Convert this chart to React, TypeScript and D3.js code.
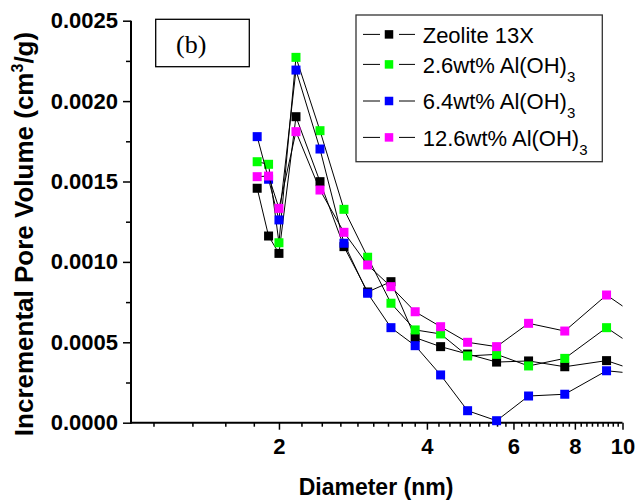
import React, { useRef, useEffect } from "react";
import * as d3 from "d3";

// pore diameters (nm), shared by all four samples
const diameters = [1.806, 1.905, 2.0, 2.166, 2.424, 2.712, 3.03, 3.38, 3.786, 4.265, 4.84, 5.544, 6.44, 7.63, 9.28, 11.6];

const zeolite13X = [0.001458, 0.001161, 0.001053, 0.001903, 0.001499, 0.001095, 0.000813, 0.000877, 0.000529, 0.000473, 0.000427, 0.000377, 0.000384, 0.000348, 0.000386, 0.000287];
const al26 = [0.001623, 0.001607, 0.001119, 0.002272, 0.001816, 0.001327, 0.001029, 0.000743, 0.000577, 0.000552, 0.000415, 0.000425, 0.000353, 0.0004, 0.000591, 0.000392];
const al64 = [0.001779, 0.001514, 0.001261, 0.002193, 0.001702, 0.001116, 0.000805, 0.000591, 0.000479, 0.000297, 0.0000746, 0.0000124, 0.000166, 0.000177, 0.000323, 0.000294];
const al126 = [0.00153, 0.001534, 0.001333, 0.00181, 0.001447, 0.001184, 0.000981, 0.000846, 0.00069, 0.000597, 0.0005, 0.000473, 0.000618, 0.00057, 0.000794, 0.00059];

const seriesNames = ["Zeolite 13X", "2.6wt% Al(OH)", "6.4wt% Al(OH)", "12.6wt% Al(OH)"];
const seriesSubs = ["", "3", "3", "3"];
const seriesColors = ["#000000", "#00ff00", "#0000ff", "#ff00ff"];
const seriesValues = [zeolite13X, al26, al64, al126];

const xMajorTicks = [2, 4, 6, 8, 10];
const yMajorTicks = [0, 0.0005, 0.001, 0.0015, 0.002, 0.0025];
const yMinorTicks = [0.00025, 0.00075, 0.00125, 0.00175, 0.00225];

const W = 635;
const H = 504;
const FONT = "'Liberation Sans', Arial, sans-serif";

const App = () => {
  const svgRef = useRef<SVGSVGElement>(null);

  useEffect(() => {
    const svg = d3.select(svgRef.current);
    svg.selectAll("*").remove();

    const x = d3.scaleLog().domain([1, 10]).range([131, 622.5]);
    const y = d3.scaleLinear().domain([0, 0.0025]).range([422.7, 20.7]);

    // Origin style minor ticks: 8 between each major, step 2/9
    const xMinorTicks: number[] = [];
    for (let j = -4; j <= 36; j++) {
      if (j % 9 !== 0) xMinorTicks.push(2 + (j * 2) / 9);
    }

    svg
      .append("defs")
      .append("clipPath")
      .attr("id", "plotClip")
      .append("rect")
      .attr("x", 131)
      .attr("y", 0)
      .attr("width", 622.5 - 131)
      .attr("height", 430);

    // x axis
    const xAxis = svg.append("g").attr("transform", `translate(0,${y(0)})`);
    xAxis
      .append("g")
      .call(d3.axisBottom(x).tickValues(xMinorTicks).tickSize(4).tickFormat(() => ""))
      .call((g) => g.select(".domain").remove());
    xAxis
      .append("g")
      .call(d3.axisBottom(x).tickValues(xMajorTicks).tickSize(7).tickPadding(8.7).tickFormat(d3.format("d")))
      .call((g) => g.select(".domain").remove());
    xAxis.selectAll("line").attr("stroke", "#000").attr("stroke-width", 1.5);
    xAxis
      .selectAll("text")
      .attr("fill", "#000")
      .style("font-family", FONT)
      .style("font-size", "22px")
      .style("font-weight", "bold");
    svg
      .append("line")
      .attr("x1", 130)
      .attr("x2", 622.5)
      .attr("y1", y(0))
      .attr("y2", y(0))
      .attr("stroke", "#000")
      .attr("stroke-width", 2);

    // y axis
    const yAxis = svg.append("g").attr("transform", `translate(${x(1)},0)`);
    yAxis
      .append("g")
      .call(d3.axisLeft(y).tickValues(yMinorTicks).tickSize(5).tickFormat(() => ""))
      .call((g) => g.select(".domain").remove());
    yAxis
      .append("g")
      .call(d3.axisLeft(y).tickValues(yMajorTicks).tickSize(8).tickPadding(5).tickFormat(d3.format(".4f")))
      .call((g) => g.select(".domain").remove());
    yAxis.selectAll("line").attr("stroke", "#000").attr("stroke-width", 1.5);
    yAxis
      .selectAll("text")
      .attr("fill", "#000")
      .style("font-family", FONT)
      .style("font-size", "22px")
      .style("font-weight", "bold");
    svg
      .append("line")
      .attr("x1", x(1))
      .attr("x2", x(1))
      .attr("y1", y(0.0025))
      .attr("y2", y(0) + 1)
      .attr("stroke", "#000")
      .attr("stroke-width", 2);

    // series: black connecting line + coloured square markers
    const plot = svg.append("g").attr("clip-path", "url(#plotClip)");
    const lineGen = d3
      .line<number>()
      .x((_, i) => x(diameters[i]))
      .y((d) => y(d));
    const ms = 9;
    seriesValues.forEach((vals, si) => {
      const g = plot.append("g");
      g.append("path")
        .datum(vals)
        .attr("fill", "none")
        .attr("stroke", "#000")
        .attr("stroke-width", 1)
        .attr("d", lineGen);
      g.selectAll("rect")
        .data(vals)
        .enter()
        .append("rect")
        .attr("x", (_, i) => x(diameters[i]) - ms / 2)
        .attr("y", (d) => y(d) - ms / 2)
        .attr("width", ms)
        .attr("height", ms)
        .attr("fill", seriesColors[si]);
    });

    // axis titles
    svg
      .append("text")
      .attr("x", 376)
      .attr("y", 495)
      .attr("text-anchor", "middle")
      .style("font-family", FONT)
      .style("font-size", "23px")
      .style("font-weight", "bold")
      .text("Diameter (nm)");

    const yTitle = svg
      .append("text")
      .attr("transform", "translate(32.5,234) rotate(-90)")
      .attr("text-anchor", "middle")
      .style("font-family", FONT)
      .style("font-size", "26px")
      .style("font-weight", "bold");
    yTitle.append("tspan").text("Incremental Pore Volume (cm");
    yTitle.append("tspan").attr("dy", -10).style("font-size", "16px").text("3");
    yTitle.append("tspan").attr("dy", 10).text("/g)");

    // (b) label box
    svg
      .append("rect")
      .attr("x", 155.7)
      .attr("y", 19.3)
      .attr("width", 93.6)
      .attr("height", 47.4)
      .attr("fill", "#fff")
      .attr("stroke", "#000")
      .attr("stroke-width", 1.3);
    svg
      .append("text")
      .attr("x", 176)
      .attr("y", 53)
      .style("font-family", "'Liberation Serif', 'Times New Roman', serif")
      .style("font-size", "26px")
      .text("(b)");

    // legend
    const legend = svg.append("g");
    legend
      .append("rect")
      .attr("x", 356)
      .attr("y", 15)
      .attr("width", 246.3)
      .attr("height", 146.7)
      .attr("fill", "#fff")
      .attr("stroke", "#333")
      .attr("stroke-width", 1.3);
    const baselines = [42.7, 72.7, 109.3, 145.7];
    seriesNames.forEach((name, i) => {
      const cy = baselines[i] - 8.3;
      legend.append("line").attr("x1", 363).attr("x2", 380).attr("y1", cy).attr("y2", cy).attr("stroke", "#000");
      legend.append("line").attr("x1", 399).attr("x2", 415).attr("y1", cy).attr("y2", cy).attr("stroke", "#000");
      legend
        .append("rect")
        .attr("x", 389 - 4.25)
        .attr("y", cy - 4.25)
        .attr("width", 8.5)
        .attr("height", 8.5)
        .attr("fill", seriesColors[i]);
      const t = legend
        .append("text")
        .attr("x", 422.7)
        .attr("y", baselines[i])
        .style("font-family", FONT)
        .style("font-size", "22px");
      t.append("tspan").text(name);
      if (seriesSubs[i]) {
        t.append("tspan").attr("dy", 9).style("font-size", "15px").text(seriesSubs[i]);
      }
    });
  }, []);

  return (
    <svg
      ref={svgRef}
      width={W}
      height={H}
      style={{ position: "absolute", left: 0, top: 0, background: "#fff" }}
    />
  );
};

export default App;
